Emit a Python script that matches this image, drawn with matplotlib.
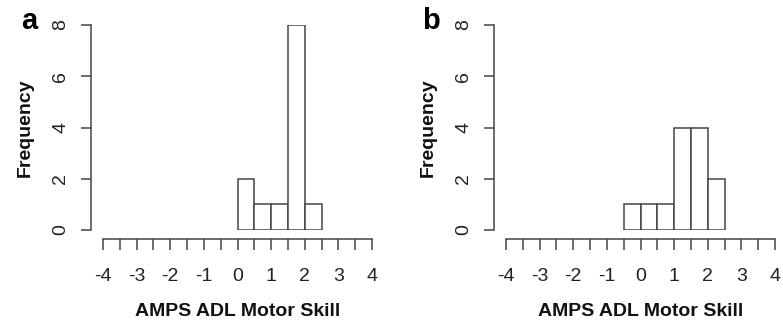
import numpy as np
import matplotlib
matplotlib.use('Agg')
import matplotlib.pyplot as plt

plt.rcParams['font.family'] = ['Liberation Sans', 'DejaVu Sans']

# histogram bins (left edges) and counts
edges_a = [0.0, 0.5, 1.0, 1.5, 2.0]
counts_a = [2, 1, 1, 8, 1]
edges_b = [-0.5, 0.0, 0.5, 1.0, 1.5, 2.0]
counts_b = [1, 1, 1, 4, 4, 2]
bin_width = 0.5

xticks = np.arange(-4, 4.5, 0.5)
xlabels = ['-4', '', '-3', '', '-2', '', '-1', '', '0', '', '1', '', '2', '', '3', '', '4']
yticks = [0, 2, 4, 6, 8]

line_col = '#454545'

fig = plt.figure(figsize=(7.83, 3.24), dpi=100)
W, H = 783, 324


def draw(left, right, edges, counts, letter, letter_x):
    ax = fig.add_axes([left / W, 1 - 230 / H, (right - left) / W, 205 / H])
    ax.bar(edges, counts, width=bin_width, align='edge', color='white',
           edgecolor=line_col, linewidth=1.1)
    ax.set_xlim(-4, 4)
    ax.set_ylim(0, 8)
    for s in ['top', 'right']:
        ax.spines[s].set_visible(False)
    ax.spines['left'].set_position(('outward', 8.6))
    ax.spines['bottom'].set_position(('outward', 6.5))
    ax.spines['left'].set_bounds(0, 8)
    ax.spines['bottom'].set_bounds(-4, 4)
    for s in ['left', 'bottom']:
        ax.spines[s].set_color(line_col)
        ax.spines[s].set_linewidth(1.1)
    ax.set_xticks(xticks)
    ax.set_xticklabels(xlabels)
    ax.set_yticks(yticks)
    ax.tick_params(axis='x', length=7.9, width=1.1, color=line_col, pad=13,
                   labelsize=14, labelcolor='#222222')
    ax.tick_params(axis='y', length=7.2, width=1.1, color=line_col, pad=8.5,
                   labelsize=14, labelcolor='#222222', labelrotation=90)
    for lab in ax.get_yticklabels():
        lab.set_va('center')
    ax.set_xlabel('AMPS ADL Motor Skill', fontsize=14, fontweight='bold',
                  labelpad=13, color='#111111')
    ax.set_ylabel('Frequency', fontsize=14, fontweight='bold',
                  labelpad=13, color='#111111')
    fig.text(letter_x / W, 1 - 29 / H, letter, fontsize=21, fontweight='bold',
             ha='left', va='baseline')
    return ax


draw(103, 372, edges_a, counts_a, 'a', 21)
draw(506, 775, edges_b, counts_b, 'b', 422)

fig.savefig('out.png', dpi=100)
